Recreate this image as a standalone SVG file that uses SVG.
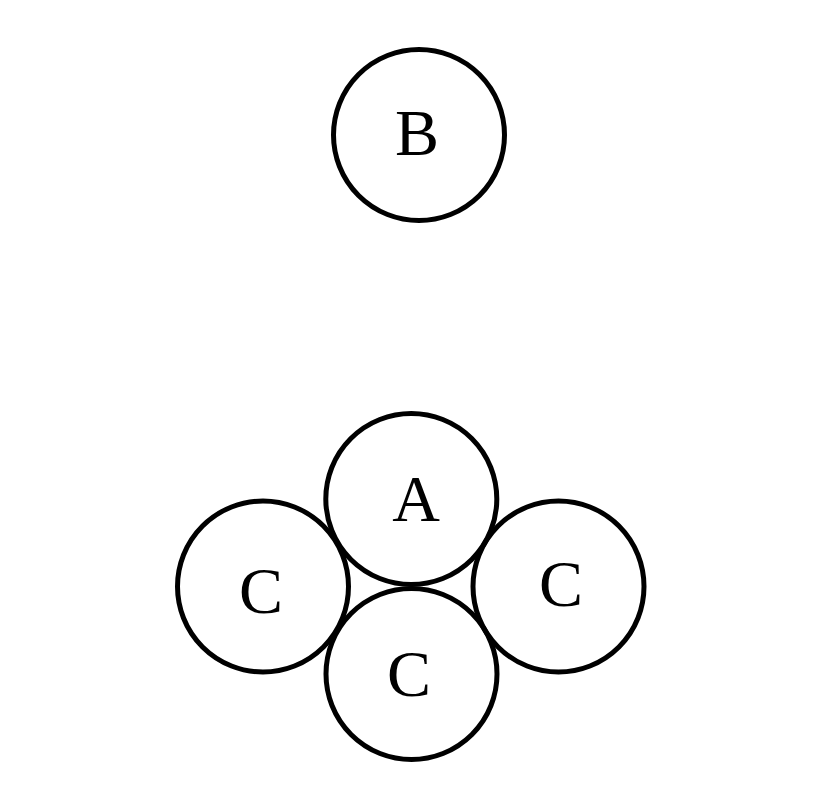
<svg xmlns="http://www.w3.org/2000/svg" width="827" height="789" viewBox="0 0 827 789">
<style>
.n circle{fill:none;stroke:#000;stroke-width:5}
.n text{font-family:"Liberation Serif","Times New Roman",serif;font-size:66px;fill:#000;text-anchor:middle}
</style>
<rect width="827" height="789" fill="#fff"/>
<g id="connectors"></g>
<g id="nodeB" class="n"><circle cx="419" cy="135" r="85.5"/><text x="417" y="155">B</text></g>
<g id="nodeCleft" class="n"><circle cx="263" cy="586.5" r="85.5"/><text x="261" y="613">C</text></g>
<g id="nodeCright" class="n"><circle cx="558.5" cy="586.5" r="85.5"/><text x="561" y="606">C</text></g>
<g id="nodeCbottom" class="n"><circle cx="411.5" cy="674" r="85.5"/><text x="409" y="696">C</text></g>
<g id="nodeA" class="n"><circle cx="411.3" cy="499" r="85.5"/><text x="416" y="521">A</text></g>
</svg>
